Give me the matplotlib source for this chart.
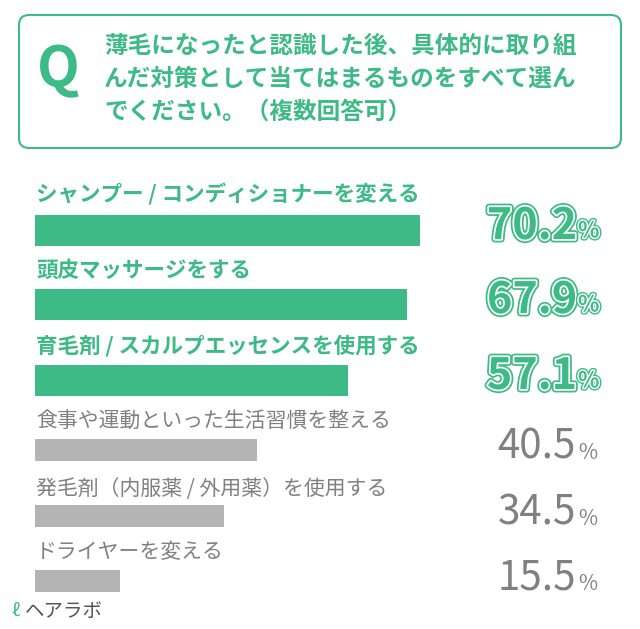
import matplotlib
matplotlib.use("Agg")
import matplotlib.pyplot as plt
from matplotlib.patches import FancyBboxPatch
import matplotlib.patheffects as pe

plt.rcParams["font.family"] = "Noto Sans CJK JP"

categories = ["シャンプー / コンディショナーを変える", "頭皮マッサージをする",
              "育毛剤 / スカルプエッセンスを使用する", "食事や運動といった生活習慣を整える",
              "発毛剤（内服薬 / 外用薬）を使用する", "ドライヤーを変える"]
values = [70.2, 67.9, 57.1, 40.5, 34.5, 15.5]
highlight = [True, True, True, False, False, False]
question = ["薄毛になったと認識した後、具体的に取り組", "んだ対策として当てはまるものをすべて選ん", "でください。（複数回答可）"]

GREEN = "#3dba85"
GRAY = "#b4b4b4"
TGRAY = "#808080"

W, H = 640, 629
fig = plt.figure(figsize=(6.4, 6.29), dpi=100)
bg = fig.add_axes([0, 0, 1, 1])
bg.set_xlim(0, W); bg.set_ylim(H, 0); bg.axis("off")

bg.add_patch(FancyBboxPatch((19, 15), 602, 133, boxstyle="round,pad=0,rounding_size=10",
                            fc="white", ec=GREEN, lw=1.5))
bg.text(58, 70, "Q", color=GREEN, fontsize=40, fontweight="bold", ha="center", va="center")
for i, line in enumerate(question):
    bg.text(104, 46 + i * 33, line, color=GREEN, fontsize=17, fontweight="bold", va="center")

ax = fig.add_axes([35 / W, 0, 548 / W, 1])
ax.set_xlim(0, 100); ax.set_ylim(H, 0); ax.axis("off")

label_y = [194, 270, 346, 421, 489, 552]
bar_y = [230, 304, 380, 450, 516, 581]
for i, (c, v, h) in enumerate(zip(categories, values, highlight)):
    ax.barh(bar_y[i], v, height=31 if h else 22, color=GREEN if h else GRAY, left=0)
    bg.text(36, label_y[i], c, color=GREEN if h else TGRAY, fontsize=15.5 if h else 15,
            fontweight="bold" if h else "normal", va="center")
    if h:
        t = bg.text(577, bar_y[i] - 4, f"{v:.1f}", color=GREEN, fontsize=31, fontweight="bold",
                    ha="right", va="center")
        t.set_path_effects([pe.Stroke(linewidth=5, foreground=GREEN), pe.Stroke(linewidth=2.5, foreground="white"), pe.Normal()])
        p = bg.text(578, bar_y[i] + 1, "%", color=GREEN, fontsize=16, fontweight="bold", ha="left", va="center")
        p.set_path_effects([pe.Stroke(linewidth=4, foreground=GREEN), pe.Stroke(linewidth=2, foreground="white"), pe.Normal()])
    else:
        bg.text(576, bar_y[i] - 3, f"{v:.1f}", color=TGRAY, fontsize=29, ha="right", va="center")
        bg.text(578, bar_y[i] + 3, "%", color=TGRAY, fontsize=15, ha="left", va="center")

bg.text(12, 611, "ℓ", color=GREEN, fontsize=13, va="center")
bg.text(25, 611, "ヘアラボ", color="#555555", fontsize=14, va="center")

fig.savefig("out.png", dpi=100, facecolor="white")
